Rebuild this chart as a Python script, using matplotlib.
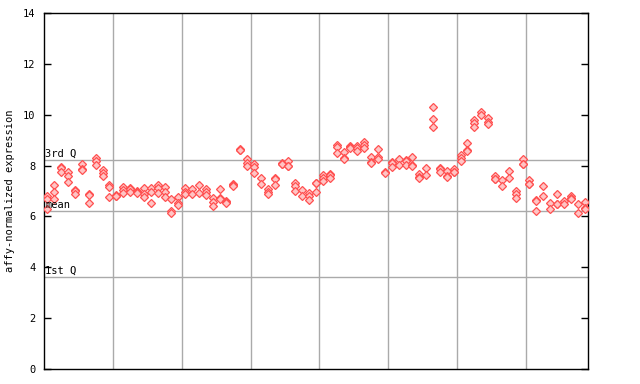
import matplotlib
matplotlib.use("Agg")
import matplotlib.pyplot as plt

# Expression values per sample (replicates)
sample_values = [
    [6.8, 6.7, 6.3], [7.24, 6.97, 6.67], [7.95, 7.9, 7.73], [7.73, 7.6, 7.34],
    [7.03, 7.0, 6.9], [8.05, 7.85, 7.83], [6.88, 6.85, 6.54], [8.28, 8.19, 8.02],
    [7.83, 7.72, 7.6], [7.24, 7.14, 6.75], [6.85, 6.82, 6.8], [7.14, 7.04, 6.91],
    [7.12, 7.08, 6.97], [7.0, 6.95, 6.93], [7.1, 6.88, 6.78], [7.1, 6.97, 6.54],
    [7.24, 7.1, 6.91], [7.17, 6.97, 6.78], [6.67, 6.2, 6.12], [6.75, 6.54, 6.45],
    [7.1, 6.98, 6.9], [7.07, 6.88], [7.24, 6.94], [7.07, 6.97, 6.85],
    [6.71, 6.58, 6.42], [7.07, 6.72, 6.68], [6.62, 6.55, 6.51], [7.26, 7.22, 7.2],
    [8.66, 8.62, 8.6], [8.24, 8.11, 8.0], [8.05, 7.96, 7.7], [7.53, 7.27],
    [7.06, 6.97, 6.88], [7.53, 7.46, 7.24], [8.1, 8.07, 8.05], [8.19, 8.0, 7.98],
    [7.33, 7.2, 7.01], [7.04, 6.82], [6.94, 6.82, 6.65], [7.32, 7.3, 6.97],
    [7.63, 7.5, 7.4], [7.67, 7.63, 7.5], [8.79, 8.75, 8.51], [8.55, 8.3, 8.24],
    [8.76, 8.72, 8.7], [8.77, 8.68, 8.58], [8.94, 8.81, 8.68], [8.32, 8.15, 8.1],
    [8.64, 8.32, 8.24], [7.76, 7.7], [8.13, 8.1, 7.93], [8.24, 8.02],
    [8.2, 8.17, 8.02], [8.32, 8.04, 8.0], [7.65, 7.55, 7.52], [7.89, 7.63],
    [10.29, 9.82, 9.53], [7.91, 7.88, 7.73], [7.79, 7.58, 7.56], [7.86, 7.75, 7.73],
    [8.41, 8.31, 8.18], [8.87, 8.61, 8.59], [9.79, 9.69, 9.53], [10.12, 9.99],
    [9.86, 9.73, 9.63], [7.6, 7.49, 7.47], [7.43, 7.2], [7.8, 7.53],
    [7.0, 6.87, 6.71], [8.24, 8.07, 8.05], [7.45, 7.29, 7.27], [6.64, 6.62, 6.2],
    [7.21, 6.8], [6.51, 6.28], [6.87, 6.49, 6.47], [6.6, 6.49],
    [6.82, 6.71, 6.69], [6.49, 6.13], [6.55, 6.33, 6.31],
]

third_q = 8.21
mean_val = 6.21
first_q = 3.62
y_ticks = [0, 2, 4, 6, 8, 10, 12, 14]
y_label = "affy-normalized expression"

fig = plt.figure(figsize=(6.4, 3.84), dpi=100)
ax = fig.add_axes([44/640, 1-369/384, 544/640, 356/384])

n = len(sample_values)
ax.set_xlim(-0.5, n - 0.5)
ax.set_ylim(0, 14)

grid_c = "#aaaaaa"
for gx in range(10, n, 10):
    ax.axvline(gx - 0.5, color=grid_c, lw=1.0, zorder=1)
for hy in (third_q, mean_val, first_q):
    ax.axhline(hy, color=grid_c, lw=1.0, zorder=1)

xs, ys = [], []
for i, vals in enumerate(sample_values):
    for v in vals:
        xs.append(i)
        ys.append(v)
ax.plot(xs, ys, linestyle="none", marker="D", markersize=4.2,
        markerfacecolor="#ffc4c4", markeredgecolor="#ff5050",
        markeredgewidth=0.9, zorder=3)

mono = "DejaVu Sans Mono"
ax.text(0.2 - 0.5 + 0.0, third_q + 0.05, "3rd Q", fontsize=7.5, family=mono,
        va="bottom", ha="left", zorder=4)
ax.text(-0.3, mean_val + 0.05, "mean", fontsize=7.5, family=mono,
        va="bottom", ha="left", zorder=4)
ax.text(-0.3, first_q + 0.05, "1st Q", fontsize=7.5, family=mono,
        va="bottom", ha="left", zorder=4)

ax.set_yticks(y_ticks)
ax.set_yticklabels([str(t) for t in y_ticks], family=mono, fontsize=7.5)
ax.set_xticks([])
ax.tick_params(axis="y", direction="in", length=5, width=1, right=True,
               left=True, pad=6)
ax.set_ylabel(y_label, family=mono, fontsize=7.5, labelpad=6)
for s in ax.spines.values():
    s.set_linewidth(1.0)
    s.set_color("black")

fig.savefig("out.png", dpi=100)
